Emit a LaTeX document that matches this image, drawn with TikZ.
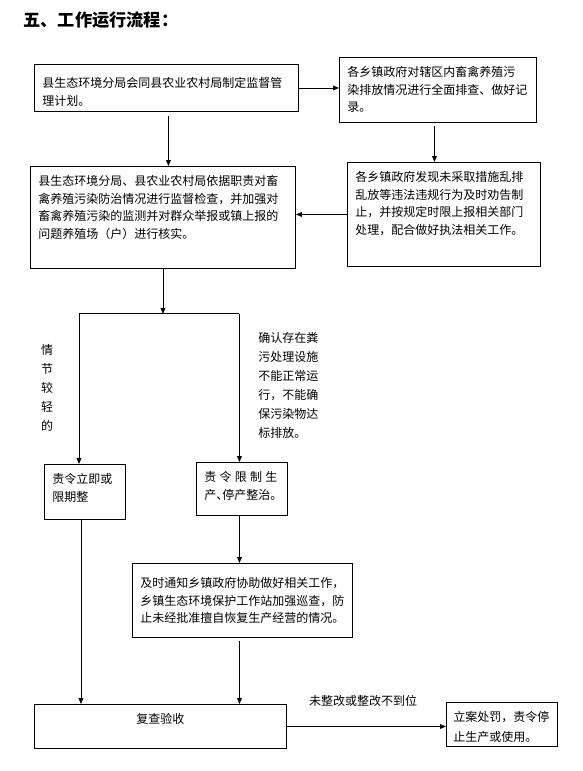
\documentclass[tikz,border=0pt]{standalone}
\usepackage{fontspec}
\newfontfamily\cjk{Noto Sans CJK SC}
\usepackage{tikz}
\usetikzlibrary{arrows.meta,calc}
\newdimen\pxu \pxu=0.75pt
\newcommand\flowtext[4][t]{\parbox[t][#3\pxu][#1]{#2\pxu}{#4}}

\begin{document}
\begin{tikzpicture}[x=0.75pt,y=-0.75pt,>={Triangle[length=4.5pt,width=3.6pt]},
  font=\cjk\fontsize{9}{13.1}\selectfont,line width=0.7pt,
  flowbox/.style={draw,anchor=north west,inner xsep=6pt,inner ysep=6.75pt},
  sidenote/.style={inner sep=0pt,font=\cjk\fontsize{9}{14.25}\selectfont}]
\useasboundingbox (0,0) rectangle (582,771);
\node[anchor=west,inner sep=0pt,font=\cjk\bfseries\fontsize{12.9}{15}\selectfont] (title) at (23,20) {五、工作运行流程：};
% boxes
\node[flowbox] (plan) at (34,64) {\flowtext{248}{29}{\vspace*{4\pxu}县生态环境分局会同县农业农村局制定监督管\\理计划。}};
\node[flowbox] (survey) at (339,57) {\flowtext{181}{47}{各乡镇政府对辖区内畜禽养殖污\\染排放情况进行全面排查、做好记\\录。}};
\node[flowbox] (inspect) at (30,166) {\flowtext{249}{84}{县生态环境分局、县农业农村局依据职责对畜\\禽养殖污染防治情况进行监督检查，并加强对\\畜禽养殖污染的监测并对群众举报或镇上报的\\问题养殖场（户）进行核实。}};
\node[flowbox] (report) at (347,162) {\flowtext{177}{86}{各乡镇政府发现未采取措施乱排\\乱放等违法违规行为及时劝告制\\止，并按规定时限上报相关部门\\处理，配合做好执法相关工作。}};
\node[flowbox] (rectify) at (44,464) {\flowtext{65}{37}{责令立即或\\限期整}};
\node[flowbox] (restrict) at (196,462) {\flowtext{75}{35}{\makebox[73\pxu][s]{责\hfill 令\hfill 限\hfill 制\hfill 生}\\产、\kern-6\pxu 停产整治。}};
\node[flowbox] (notify) at (132,563) {\flowtext[c]{204}{56}{及时通知乡镇政府协助做好相关工作，\\乡镇生态环境保护工作站加强巡查，防\\止未经批准擅自恢复生产经营的情况。}};
\node[flowbox] (recheck) at (34,704) {\flowtext{236}{26}{\centering 复查验收}};
\node[flowbox,inner xsep=5.25pt] (punish) at (446,702) {\flowtext{97}{26}{\fontsize{9}{15}\selectfont 立案处罚，责令停\\止生产或使用。}};
% notes
\node[sidenote,align=center] (mildnote) at (47,388) {情\\节\\较\\轻\\的};
\node[sidenote,anchor=north west,align=left] (severenote) at (258,332) {确认存在粪\\污处理设施\\不能正常运\\行，不能确\\保污染物达\\标排放。};
\node (failnote) at (363,701) {未整改或整改不到位};
% connectors
\draw[->] (plan.east) -- (plan.east -| survey.west);
\coordinate (planout) at ($(plan.south)+(2,4)$);
\draw[->] (planout) -- (planout |- inspect.north);
\coordinate (surveyout) at ($(survey.south)+(-3.5,3)$);
\draw[->] (surveyout) -- (surveyout |- report.north);
\draw[->] (report.west) -- (report.west -| inspect.east);
\coordinate (split) at ($(inspect.south)+(0,45)$);
\coordinate (splitL) at ($(split)+(-84,0)$);
\coordinate (splitR) at ($(split)+(76.5,0)$);
\draw[->] (inspect.south) -- (split);
\draw (splitL) -- (splitR);
\draw[->] (splitL) -- (splitL |- rectify.north);
\draw[->] (splitR) -- (splitR |- restrict.north);
\draw[->] (splitR |- restrict.south) -- (splitR |- notify.north);
\draw[->] ($(splitR |- notify.south)+(0,3)$) -- (splitR |- recheck.north);
\draw[->] ($(splitL |- rectify.south)+(2,0)$) -- ($(splitL |- recheck.north)+(2,0)$);
\draw[->] (recheck.east) -- (recheck.east -| punish.west);
\end{tikzpicture}
\end{document}
